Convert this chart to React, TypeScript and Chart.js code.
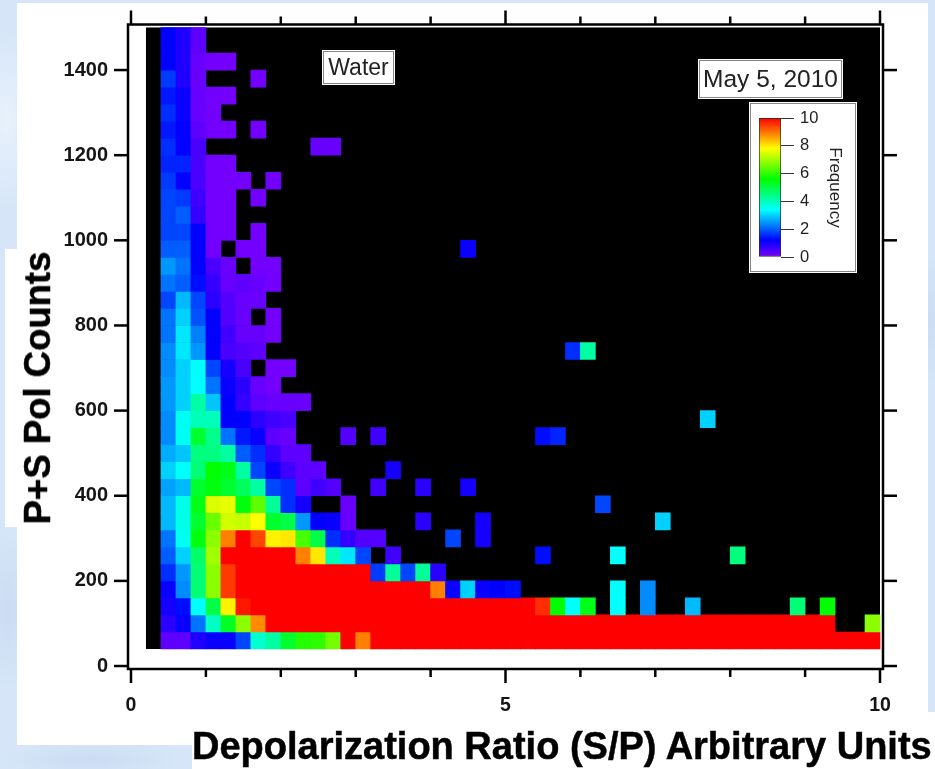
import React, { useEffect, useRef } from "react";
import { Chart, registerables } from "chart.js";

Chart.register(...registerables);

const _ = null;
const S = 10; // saturated red

const xTickValues = [0, 1, 2, 3, 4, 5, 6, 7, 8, 9, 10];
const xTickLabels = ["0", "5", "10"];
const yTickValues = [0, 200, 400, 600, 800, 1000, 1200, 1400];
const colorbarTicks = [0, 2, 4, 6, 8, 10];
const colorStops: [number, number[]][] = [
  [0, [125, 0, 255]],
  [1.2, [0, 0, 255]],
  [3.4, [0, 255, 255]],
  [5.6, [0, 255, 0]],
  [7.8, [255, 255, 0]],
  [10, [255, 0, 0]],
];

// one row per P+S count bin (40 counts high), from the bottom; one column per S/P bin (0.2 wide), from 0.2
const row00 = [_, .3, .3, .9, 1.1, 1.1, 1.8, 3.8, 4.2, 5.2, 5.9, 6, 6.6, S, 8.9,
  S, S, S, S, S, S, S, S, S, S,
  S, S, S, S, S, S, S, S, S, S,
  S, S, S, S, S, S, S, S, S, S,
  S, S, S, S];
const row01 = [_, .8, 1.1, 2.2, 3.9, 5.3, 6.8, 8.8,
  S, S, S, S, S, S, S, S, S, S,
  S, S, S, S, S, S, S, S, S, S,
  S, S, S, S, S, S, S, S, S, S,
  S, S, S, S, S, S, S, S, _, _, 6.8];
const row02 = [_, 1, 1.3, 3.4, 5, 7.9, 9.8,
  S, S, S, S, S, S, S, S, S, S,
  S, S, S, S, S, S, S, S, S, 9.6, 5.6, 3.4, 5.4, _, 3.4, _, 2.4, _, _, 2.8, _, _, _, _, _, _, 4.6, _, 5.6];
const row03 = [_, 1.1, 2.4, 4.6, 6.8, 9.5,
  S, S, S, S, S, S, S, S, S, S,
  S, S, S, 8.9, 1.1, 3, 1.1, 1.2, 1.3, _, _, _, _, _, _, 3.4, _, 2.4];
const row04 = [_, 1.6, 2.5, 4.6, 6.8, 9.5, S, S, S, S, S, S, S, S, S, 1.7, 4.3, 1.8, 4.3, .8];
const row05 = [_, 2, 3, 4.7, 7, S, S, S, S, S, 8.9, 8, 4, 3.2, 1.8, _, .6, _, _, _, _, _, _, _, _, _, 1.3, _, _, _, _, 3.4, _, _, _, _, _, _, _, 4.5];
const row06 = [_, 2.2, 3.5, 5.5, 6.8, 8.9, S, 9.4, 7.9, 8, 6.2, 5, 1.6, .7, .4, .4, _, _, _, _, 1.8, _, 1];
const row07 = [_, 2.8, 3.6, 5.2, 6.5, 7.4, 7.3, 7.8, 5.2, 5, 2.5, 1.2, 1.1, .2, _, _, _, _, .8, _, _, _, 1, _, _, _, _, _, _, _, _, _, _, _, 3];
const row08 = [_, 2.8, 3.6, 5.4, 7.5, 7.6, 5.5, 6.4, 4.3, 1.6, 1, _, _, .2, _, _, _, _, _, _, _, _, _, _, _, _, _, _, _, _, 1.8];
const row09 = [_, 2.6, 2.8, 5.2, 5.5, 5.2, 4.8, 4.2, 1.8, 1.6, .3, .6, .4, _, _, .6, _, _, .8, _, _, 1];
const row10 = [_, 3, 3.4, 4.6, 5.6, 5.4, 4.2, 1.8, 1.1, .6, .3, .3, _, _, _, _, 1];
const row11 = [_, 2.7, 2.9, 4.5, 4.5, 4.2, 2, 1.6, .7, .3, .3];
const row12 = [_, 2.4, 3.5, 5.2, 4.4, 2.2, 1.4, 1.1, .3, .2, _, _, _, .4, _, .6, _, _, _, _, _, _, _, _, _, _, 1.3, 1.5];
const row13 = [_, 2.4, 3.5, 4, 4, 1.2, 1.2, .8, .6, .5, _, _, _, _, _, _, _, _, _, _, _, _, _, _, _, _, _, _, _, _, _, _, _, _, _, _, _, 3];
const row14 = [_, 2.5, 3, 4.2, 2.9, 1.2, .7, .3, .2, .2, .2];
const row15 = [_, 2.5, 3, 3.4, 2.2, 1.1, .8, .2, .1];
const row16 = [_, 2.4, 3, 3.4, 1.8, 1, .5, _, .1, .1];
const row17 = [_, 2.4, 3.2, 2.5, 1.2, .5, .4, .3, _, _, _, _, _, _, _, _, _, _, _, _, _, _, _, _, _, _, _, _, 1.6, 4.2];
const row18 = [_, 2.2, 3.2, 2.3, 1.2, .6, .2, .2, .1];
const row19 = [_, 2.2, 3, 1.9, 1.2, .4, .2, _, .1];
const row20 = [_, 1.8, 2.8, 1.8, .8, .4, .2, .2];
const row21 = [_, 2.2, 2, 1.3, .7, .2, .3, .2, .1];
const row22 = [_, 2.5, 2.2, 1.2, .5, .2, _, .1, .1];
const row23 = [_, 2, 2, 1.2, .1, _, .1, .1, _, _, _, _, _, _, _, _, _, _, _, _, _, 1.1];
const row24 = [_, 1.8, 1.8, 1.2, .1, .1, _, .1];
const row25 = [_, 1.8, 2, .7, .1, .1];
const row26 = [_, 1.8, 1.7, .6, .1, .1, _, .1];
const row27 = [_, 1.7, 1.2, .5, .1, .1, .1, _, .1];
const row28 = [_, 1.5, 1.5, .5, .1, .1];
const row29 = [_, 1.6, 1.2, .5, _, _, _, _, _, _, _, .2, .2];
const row30 = [_, 1.4, 1.2, .3, .1, .1, _, .1];
const row31 = [_, 1.6, 1.1, .2, .1];
const row32 = [_, 1.4, 1.1, .2, .1, .1];
const row33 = [_, 1.7, .9, .2, _, _, _, .1];
const row34 = [_, 1.2, .9, .2, .1, .1];
const row35 = [_, 1.2, .9, .3];
const row36 = [_, 1.2, .9, .3];

const frequencyRows = [
  row00, row01, row02, row03, row04, row05, row06, row07, row08, row09, row10, row11,
  row12, row13, row14, row15, row16, row17, row18, row19, row20, row21, row22, row23,
  row24, row25, row26, row27, row28, row29, row30, row31, row32, row33, row34, row35, row36,
];

const binCount = 49;
const ratioStart = 0.2;
const ratioEnd = 10;
const ratioWidth = 0.2;
const countStart = 40;
const countHeight = 40;
const countTop = 1500;

function colorOf(v: number): string {
  for (let i = 1; i < colorStops.length; i++) {
    const [b, cb] = colorStops[i];
    const [a, ca] = colorStops[i - 1];
    if (v <= b) {
      const t = (v - a) / (b - a);
      const c = ca.map((k, j) => Math.round(k + (cb[j] - k) * t));
      return `rgb(${c[0]},${c[1]},${c[2]})`;
    }
  }
  return "rgb(255,0,0)";
}

const labelFont = "'Liberation Sans', Arial, sans-serif";

// empty bins: the black field behind the cells, placed through the scales
const emptyField = {
  id: "emptyField",
  beforeDatasetsDraw(chart: any) {
    const { ctx, scales } = chart;
    const x0 = scales.x.getPixelForValue(ratioStart);
    const x1 = scales.x.getPixelForValue(ratioEnd);
    const y0 = scales.y.getPixelForValue(countTop);
    const y1 = scales.y.getPixelForValue(countStart);
    ctx.save();
    ctx.fillStyle = "#000";
    ctx.fillRect(x0, y0, x1 - x0, y1 - y0);
    ctx.restore();
  },
};

const frameAndTicks = {
  id: "frameAndTicks",
  afterDraw(chart: any) {
    const { ctx, chartArea: a, scales } = chart;
    ctx.save();
    ctx.strokeStyle = "#000";
    ctx.lineWidth = 2.5;
    ctx.strokeRect(a.left, a.top, a.right - a.left, a.bottom - a.top);
    const seg = (x1: number, y1: number, x2: number, y2: number) => {
      ctx.beginPath();
      ctx.moveTo(x1, y1);
      ctx.lineTo(x2, y2);
      ctx.stroke();
    };
    xTickValues.forEach((v) => {
      const x = scales.x.getPixelForValue(v);
      const len = v % 5 === 0 ? 14 : 8;
      seg(x, a.bottom, x, a.bottom + len);
      seg(x, a.top, x, a.top - len);
    });
    yTickValues.forEach((v) => {
      const y = scales.y.getPixelForValue(v);
      seg(a.left, y, a.left - 14, y);
      seg(a.right, y, a.right + 14, y);
    });
    ctx.restore();
  },
};

const panel = (left: number, top: number, width: number, height: number): React.CSSProperties => ({
  position: "absolute", left, top, width, height, background: "#fff",
});

const textBox = (left: number, top: number, width: number, height: number, size: number): React.CSSProperties => ({
  position: "absolute", left, top, width, height, boxSizing: "border-box",
  background: "#fff", border: "1.5px solid #858585", outline: "1.5px solid #fff", outlineOffset: "0px",
  color: "#222", font: `${size}px ${labelFont}`, display: "flex", alignItems: "center", justifyContent: "center",
  whiteSpace: "nowrap", filter: "blur(0.4px)",
});

export default function App() {
  const mainRef = useRef<HTMLCanvasElement>(null);
  const barRef = useRef<HTMLCanvasElement>(null);

  useEffect(() => {
    const points: any[] = [];
    const colors: string[] = [];
    frequencyRows.forEach((row, r) => {
      for (let c = 0; c < binCount; c++) {
        const v = row[c];
        if (v === null || v === undefined) continue;
        const lo = countStart + r * countHeight;
        points.push({
          x: ratioStart + (c + 0.5) * ratioWidth,
          y: [lo, Math.min(lo + countHeight, countTop)],
        });
        colors.push(colorOf(v));
      }
    });

    const main = new Chart(mainRef.current!, {
      type: "bar",
      data: {
        datasets: [{
          label: "Frequency",
          data: points,
          backgroundColor: colors,
          borderWidth: 0,
          categoryPercentage: 1,
          barPercentage: 1,
          grouped: false,
        } as any],
      },
      options: {
        animation: false,
        responsive: false,
        devicePixelRatio: 1,
        layout: { padding: { left: 0, top: 24.5, right: 52, bottom: 40 } },
        plugins: { legend: { display: false }, tooltip: { enabled: false } },
        scales: {
          x: {
            type: "linear",
            min: -0.04,
            max: 10.04,
            offset: false,
            grid: { display: false, drawTicks: false },
            border: { display: false },
            afterBuildTicks: (s: any) => { s.ticks = xTickValues.map((value) => ({ value })); },
            afterFit: (s: any) => { s.height = 60; },
            ticks: {
              autoSkip: false,
              maxRotation: 0,
              padding: 25,
              color: "#151515",
              font: { family: labelFont, size: 19.5, weight: "bold" },
              callback: (v: any) => (xTickLabels.includes(String(v)) ? String(v) : ""),
            },
          },
          y: {
            type: "linear",
            min: -7,
            max: 1507,
            grid: { display: false, drawTicks: false },
            border: { display: false },
            afterBuildTicks: (s: any) => { s.ticks = yTickValues.map((value) => ({ value })); },
            afterFit: (s: any) => { s.width = 128; s.paddingTop = 0; s.paddingBottom = 0; },
            ticks: {
              autoSkip: false,
              padding: 20,
              color: "#151515",
              font: { family: labelFont, size: 20, weight: "bold" },
              callback: (v: any) => String(v),
            },
          },
        },
      } as any,
      plugins: [emptyField, frameAndTicks],
    });

    const gradientFill = (ctx: any) => {
      const a = ctx.chart.chartArea;
      if (!a) return "#000";
      const g = ctx.chart.ctx.createLinearGradient(0, a.bottom, 0, a.top);
      colorStops.forEach(([v, c]) => g.addColorStop(v / 10, `rgb(${c[0]},${c[1]},${c[2]})`));
      return g;
    };

    const bar = new Chart(barRef.current!, {
      type: "bar",
      data: {
        labels: ["Frequency"],
        datasets: [{
          data: [[0, 10]],
          backgroundColor: gradientFill,
          borderColor: "#2a2a2a",
          borderWidth: 1,
          borderSkipped: false,
          categoryPercentage: 1,
          barPercentage: 1,
        } as any],
      },
      options: {
        animation: false,
        responsive: false,
        devicePixelRatio: 1,
        layout: { padding: { left: 9, top: 15, right: 0, bottom: 15 } },
        plugins: { legend: { display: false }, tooltip: { enabled: false } },
        scales: {
          x: { display: false },
          y: {
            position: "right",
            min: 0,
            max: 10,
            afterBuildTicks: (s: any) => { s.ticks = colorbarTicks.map((value) => ({ value })); },
            afterFit: (s: any) => { s.width = 75; s.paddingTop = 0; s.paddingBottom = 0; },
            grid: { display: true, drawOnChartArea: false, drawTicks: true, tickLength: 13, tickColor: "#333", lineWidth: 1 },
            border: { display: false },
            ticks: {
              padding: 6,
              color: "#222",
              font: { family: labelFont, size: 16.5 },
              callback: (v: any) => String(v),
            },
            title: {
              display: true,
              text: "Frequency",
              color: "#222",
              font: { family: labelFont, size: 17 },
              padding: { top: 11, bottom: 0 },
            },
          },
        },
      } as any,
    });

    return () => {
      main.destroy();
      bar.destroy();
    };
  }, []);

  return (
    <div style={{
      position: "fixed", left: 0, top: 0, width: 935, height: 769, overflow: "hidden",
      backgroundColor: "#d6e6f8",
      backgroundImage:
        "radial-gradient(ellipse 40px 90px at 6px 120px, #e8f1fb 0%, transparent 100%)," +
        "radial-gradient(ellipse 30px 80px at 8px 610px, #cadcf3 0%, transparent 100%)," +
        "radial-gradient(ellipse 20px 70px at 930px 320px, #cbdcf3 0%, transparent 100%)," +
        "radial-gradient(ellipse 90px 20px at 90px 760px, #cadcf3 0%, transparent 100%)",
    }}>
      <div style={panel(17, 3, 911, 709)} />
      <div style={panel(17, 712, 175, 33)} />
      <div style={panel(192, 712, 743, 57)} />
      <div style={panel(5, 249, 12, 278)} />

      <canvas ref={mainRef} width={935} height={769} style={{ position: "absolute", left: 0, top: 0, filter: "blur(0.4px)" }} />

      <div style={textBox(323, 51, 71, 33, 23)}>Water</div>
      <div style={textBox(699, 60, 143, 38, 24.5)}>May 5, 2010</div>
      <div style={{ ...panel(750, 103, 106, 169), boxSizing: "border-box", border: "1.5px solid #858585", outline: "1.5px solid #fff" }} />
      <canvas ref={barRef} width={106} height={169} style={{ position: "absolute", left: 750, top: 103, filter: "blur(0.4px)" }} />

      <div style={{
        position: "absolute", left: 192, top: 725, width: 745, whiteSpace: "nowrap", color: "#000",
        font: `bold 38px ${labelFont}`, WebkitTextStroke: "0.5px #000",
      }}>Depolarization Ratio (S/P) Arbitrary Units</div>
      <div style={{
        position: "absolute", left: 38, top: 388, whiteSpace: "nowrap", color: "#000",
        font: `bold 36.5px ${labelFont}`, WebkitTextStroke: "0.5px #000",
        transform: "translate(-50%, -50%) rotate(-90deg)",
      }}>P+S Pol Counts</div>
    </div>
  );
}
